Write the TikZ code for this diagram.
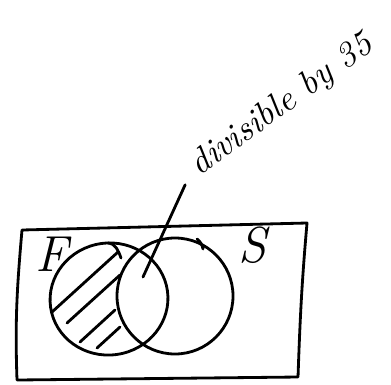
\documentclass[tikz,border=0pt]{standalone}
\usetikzlibrary{calc}
\begin{document}
\begin{tikzpicture}[scale=1,line cap=round,line join=round]
    \useasboundingbox (0,0) rectangle (3.91,3.84);
    % Universe (rough box)
    \draw[thick] (0.22,1.54) -- (3.07,1.61) to[out=-95,in=88] (2.98,0.07) -- (0.17,0.04) to[out=92,in=-95] cycle;
    % Set F
    \draw[thick] (1.09,0.85) [rotate around={8:(1.09,0.85)}] ellipse (0.59 and 0.56);
    \draw[thick] (1.08,1.41) to[out=-5,in=110] (1.21,1.26);
    % Set S
    \draw[thick] (1.75,0.88) ellipse (0.58 and 0.58);
    \draw[thick] (1.97,1.45) to[out=-40,in=100] (2.03,1.35);
    % Hatching of F without S
    \foreach \a/\b in {{(0.52,0.72)}/{(1.18,1.32)}, {(0.67,0.61)}/{(1.20,1.09)},
                       {(0.80,0.42)}/{(1.15,0.74)}, {(0.97,0.36)}/{(1.20,0.57)}}
        \draw[thick] \a -- \b;
    % Labels
    \node[font=\Large\itshape] (F) at (0.52,1.30) {F};
    \node[font=\Large\itshape] (S) at (2.52,1.39) {S};
    \node[font=\normalsize\itshape,rotate=36,anchor=west,inner sep=1pt] (div) at (1.91,2.12) {divisible by 35};
    % Pointer to the intersection
    \coordinate (tip) at (1.43,1.07);
    \draw[thick,shorten >=4pt] (tip) -- (div.west);
\end{tikzpicture}
\end{document}
